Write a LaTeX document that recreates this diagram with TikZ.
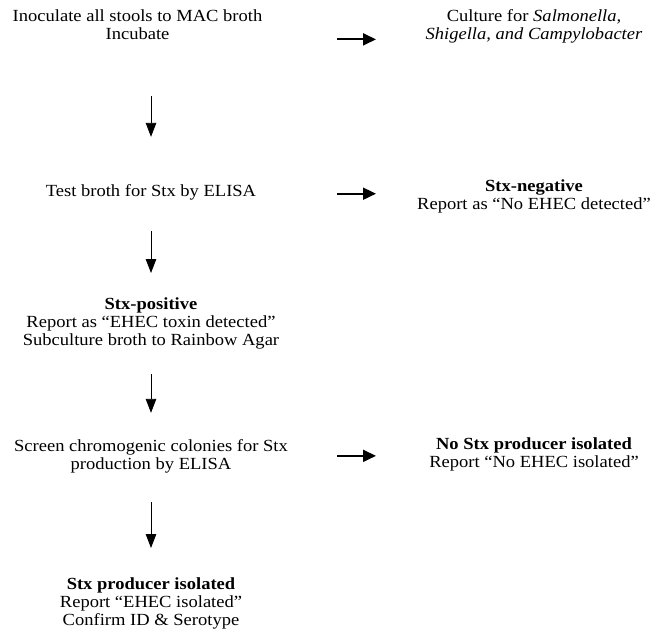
\documentclass[tikz,border=0pt]{standalone}
\usepackage{fontspec}
\setmainfont{Liberation Serif}[FakeStretch=1.09]
\usetikzlibrary{arrows.meta}
\tikzset{
  txt/.style={align=center,inner sep=0pt,anchor=base,font=\fontsize{17}{18}\selectfont},
  darr/.style={-{Triangle[length=14pt,width=10.5pt]},line width=0.9pt},
  rarr/.style={-{Triangle[length=13pt,width=12pt]},line width=1.8pt}
}
\begin{document}
\begin{tikzpicture}[x=1pt,y=-1pt]
  \useasboundingbox[fill=white] (0,0) rectangle (651,630);

  % left column (placed by the baseline of the last line)
  \node[txt] (inoc) at (137.5,39) {Inoculate all stools to MAC broth\\Incubate};
  \node[txt] (test) at (151,196) {Test broth for Stx by ELISA};
  \node[txt] (pos) at (151,345) {\textbf{Stx-positive}\\Report as “EHEC toxin detected”\\Subculture broth to Rainbow Agar};
  \node[txt] (screen) at (151,469) {Screen chromogenic colonies for Stx\\production by ELISA};
  \node[txt] (prod) at (151,625) {\textbf{Stx producer isolated}\\Report “EHEC isolated”\\Confirm ID \& Serotype};

  % right column
  \node[txt] (cult) at (534,39) {Culture for \textit{Salmonella,}\\\textit{Shigella, and Campylobacter}};
  \node[txt] (neg) at (534,209) {\textbf{Stx-negative}\\Report as “No EHEC detected”};
  \node[txt] (nop) at (534,467) {\textbf{No Stx producer isolated}\\Report “No EHEC isolated”};

  % down arrows
  \foreach \a/\b/\s/\e in {inoc/test/57/47, test/pos/31/24, pos/screen/25/26, screen/prod/29/29}
    \draw[darr,shorten <=\s pt,shorten >=\e pt] (\a.south -| \b.north) -- (\b.north);

  % side arrows
  \foreach \a in {inoc.south, test.mid, screen.east}
    \draw[rarr] (\a -| 337,0) -- (\a -| 376,0);
\end{tikzpicture}
\end{document}
